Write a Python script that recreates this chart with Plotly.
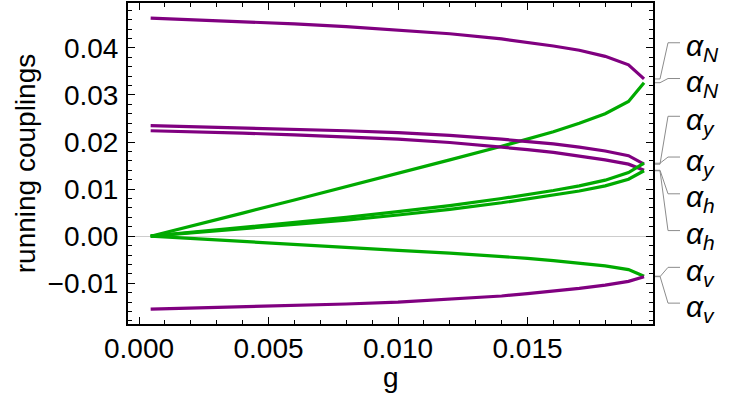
import plotly.graph_objects as go

# ---- data ----
g = [0.00045, 0.002, 0.004, 0.006, 0.008, 0.010, 0.012, 0.014, 0.015, 0.016, 0.017, 0.018, 0.0189, 0.0195]

purple_N = [0.0463, 0.0460, 0.0456, 0.0451, 0.0445, 0.0438, 0.0430, 0.0419, 0.0412, 0.0404, 0.0395, 0.0382, 0.0364, 0.0334]
green_N = [0.0, 0.0021, 0.0049, 0.0077, 0.0105, 0.0133, 0.0162, 0.0191, 0.0206, 0.0222, 0.0240, 0.0260, 0.0286, 0.0326]
purple_y1 = [0.0235, 0.0233, 0.0230, 0.0227, 0.0224, 0.0220, 0.0214, 0.0206, 0.0201, 0.0196, 0.0189, 0.0181, 0.0171, 0.0153]
purple_y2 = [0.0224, 0.0222, 0.0219, 0.0215, 0.0211, 0.0206, 0.0199, 0.0190, 0.0184, 0.0178, 0.0170, 0.0162, 0.0153, 0.0140]
green_h1 = [0.0, 0.0008, 0.0018, 0.0029, 0.0040, 0.0052, 0.0065, 0.0080, 0.0088, 0.0097, 0.0107, 0.0119, 0.0135, 0.0155]
green_h2 = [0.0, 0.0007, 0.0015, 0.0024, 0.0034, 0.0045, 0.0057, 0.0071, 0.0079, 0.0087, 0.0096, 0.0107, 0.0121, 0.0139]
green_v = [0.0, -0.0005, -0.0012, -0.0018, -0.0024, -0.0030, -0.0036, -0.0043, -0.0047, -0.0052, -0.0057, -0.0063, -0.0071, -0.0085]
purple_v = [-0.0155, -0.0153, -0.0150, -0.0147, -0.0144, -0.0140, -0.0134, -0.0127, -0.0122, -0.0117, -0.0111, -0.0104, -0.0096, -0.0086]

labels = ["α<sub>N</sub>", "α<sub>N</sub>", "α<sub>y</sub>", "α<sub>y</sub>",
          "α<sub>h</sub>", "α<sub>h</sub>", "α<sub>v</sub>", "α<sub>v</sub>"]
x_title = "g"
y_title = "running couplings"

PURPLE = "rgb(128,0,128)"
GREEN = "rgb(0,170,0)"
FONT = "Liberation Sans, Arial, sans-serif"

XR = [-0.000425, 0.019846]
YR = [-0.01865, 0.04953]

# layout geometry (pixels)
W, H = 750, 417
ML, MR, MT, MB = 128, 97, 1, 93
PW, PH = W - ML - MR, H - MT - MB

fig = go.Figure()
series = [
    (purple_N, PURPLE), (green_N, GREEN),
    (purple_y1, PURPLE), (purple_y2, PURPLE),
    (green_h1, GREEN), (green_h2, GREEN),
    (green_v, GREEN), (purple_v, PURPLE),
]
for ys, c in series:
    fig.add_trace(go.Scatter(x=g, y=ys, mode="lines", line=dict(color=c, width=3.2),
                             showlegend=False, hoverinfo="skip"))


def px_x(X):
    return (X - ML) / PW


def px_y(Y):
    return (MT + PH - Y) / PH


def val_y(v):
    return (v - YR[0]) / (YR[1] - YR[0])


# leader lines from curve ends to labels
ends = [purple_N[-1], green_N[-1], purple_y1[-1], green_h1[-1],
        purple_y2[-1], green_h2[-1], purple_v[-1], green_v[-1]]
label_line_y = [41, 77, 115, 156, 193, 230, 267, 303]
shapes = []
annotations = []
for e, ly, lab in zip(ends, label_line_y, labels):
    y0 = val_y(e)
    y1 = px_y(ly)
    path = "M {a},{b} L {c},{b} L {d},{f} L {h},{f}".format(
        a=px_x(655), b=y0, c=px_x(660), d=px_x(668), f=y1, h=px_x(680))
    shapes.append(dict(type="path", path=path, xref="paper", yref="paper",
                       line=dict(color="rgb(140,140,140)", width=1)))
    annotations.append(dict(text="<i>" + lab + "</i>", xref="paper", yref="paper",
                            x=px_x(684), y=px_y(ly + 5), xanchor="left", yanchor="middle",
                            showarrow=False, font=dict(family=FONT, size=30, color="black")))

# x-axis title
annotations.append(dict(text=x_title, xref="paper", yref="paper", x=0.5, y=px_y(378),
                        xanchor="center", yanchor="middle", showarrow=False,
                        font=dict(family=FONT, size=28, color="black")))

axis_common = dict(
    showline=True, linecolor="black", linewidth=2, mirror="ticks",
    ticks="inside", ticklen=7, tickwidth=1.2, tickcolor="black",
    showgrid=False, tickfont=dict(family=FONT, size=28, color="black"),
)

fig.update_layout(
    width=W, height=H,
    margin=dict(l=ML, r=MR, t=MT, b=MB),
    plot_bgcolor="white", paper_bgcolor="white",
    xaxis=dict(range=XR, tick0=0, dtick=0.005, tickformat=".3f",
               zeroline=False,
               minor=dict(ticks="inside", ticklen=4, tickwidth=1, dtick=0.001, tickcolor="black", showgrid=False),
               ticklabelstandoff=-2,
               **axis_common),
    yaxis=dict(range=YR, tick0=0, dtick=0.01, tickformat=".2f",
               zeroline=True, zerolinecolor="rgb(205,205,205)", zerolinewidth=1,
               minor=dict(ticks="inside", ticklen=4, tickwidth=1, dtick=0.002, tickcolor="black", showgrid=False),
               title=dict(text=y_title, font=dict(family=FONT, size=28, color="black"), standoff=4),
               ticklabelstandoff=2,
               **axis_common),
    shapes=shapes,
    annotations=annotations,
)

fig.write_html("out.html")
